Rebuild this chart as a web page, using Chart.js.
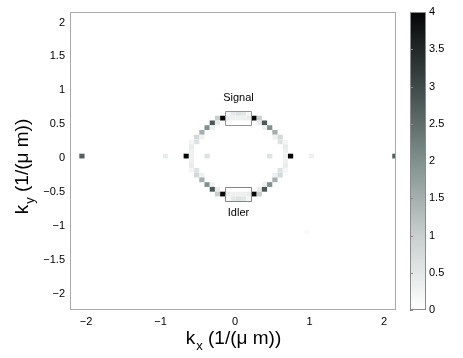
<!DOCTYPE html>
<html>
<head>
<meta charset="utf-8">
<script src="https://cdn.jsdelivr.net/npm/chart.js@4.4.0/dist/chart.umd.min.js"></script>
<style>
  body { margin: 0; background: #fff; }
  #wrap { width: 463px; height: 358px; }
</style>
</head>
<body>
<div id="wrap"><canvas id="kspace"></canvas></div>
<script>
// intensity cells, centre kx / ky in 1/um, cell width 0.07
var cellSize = 0.07;
var cellKx = [
  -0.095, -0.025, 0.045, 0.115, 0.185,
  -0.235, -0.165, -0.095, -0.025, 0.045, 0.115, 0.185, 0.255, 0.325,
  -0.305, -0.235, 0.325, 0.395,
  -0.375, -0.305, 0.395, 0.465,
  -0.445, 0.535,
  -0.515, -0.445, 0.535, 0.605,
  -0.585, -0.515, 0.605, 0.675,
  -0.585, 0.675,
  -0.585, 0.675,
  -2.055, -0.935, -0.655, -0.585, -0.375, 0.465, 0.675, 0.745, 1.025, 2.145,
  -0.585, 0.675,
  -0.585, 0.675,
  -0.585, -0.515, 0.605, 0.675,
  -0.515, -0.445, 0.535, 0.605,
  -0.445, 0.535,
  -0.375, -0.305, 0.395, 0.465,
  -0.305, -0.235, 0.325, 0.395,
  -0.235, -0.165, -0.095, -0.025, 0.045, 0.115, 0.185, 0.255, 0.325,
  -0.095, -0.025, 0.045, 0.115, 0.185,
  0.955
];
var cellKy = [
  0.66, 0.66, 0.66, 0.66, 0.66,
  0.59, 0.59, 0.59, 0.59, 0.59, 0.59, 0.59, 0.59, 0.59,
  0.52, 0.52, 0.52, 0.52,
  0.45, 0.45, 0.45, 0.45,
  0.38, 0.38,
  0.31, 0.31, 0.31, 0.31,
  0.24, 0.24, 0.24, 0.24,
  0.17, 0.17,
  0.10, 0.10,
  0.03, 0.03, 0.03, 0.03, 0.03, 0.03, 0.03, 0.03, 0.03, 0.03,
  -0.04, -0.04,
  -0.11, -0.11,
  -0.18, -0.18, -0.18, -0.18,
  -0.25, -0.25, -0.25, -0.25,
  -0.32, -0.32,
  -0.39, -0.39, -0.39, -0.39,
  -0.46, -0.46, -0.46, -0.46,
  -0.53, -0.53, -0.53, -0.53, -0.53, -0.53, -0.53, -0.53, -0.53,
  -0.60, -0.60, -0.60, -0.60, -0.60,
  -1.09
];
var cellVal = [
  0.2, 0.5, 0.6, 0.5, 0.2,
  1.0, 4.0, 0.4, 0.3, 0.3, 0.3, 0.4, 4.0, 1.0,
  2.8, 0.4, 0.4, 2.8,
  2.0, 0.3, 0.3, 2.0,
  1.5, 1.5,
  0.8, 0.3, 0.3, 0.8,
  0.2, 0.6, 0.6, 0.2,
  0.4, 0.4,
  0.3, 0.3,
  2.7, 0.4, 4.0, 0.3, 0.6, 0.6, 0.3, 4.0, 0.3, 2.7,
  0.3, 0.3,
  0.4, 0.4,
  0.2, 0.6, 0.6, 0.2,
  0.8, 0.3, 0.3, 0.8,
  1.5, 1.5,
  2.0, 0.3, 0.3, 2.0,
  2.8, 0.4, 0.4, 2.8,
  1.0, 4.0, 0.4, 0.3, 0.3, 0.3, 0.4, 4.0, 1.0,
  0.2, 0.5, 0.6, 0.5, 0.2,
  0.1
];

var xRange = [-2.215, 2.16];
var yRange = [-2.24, 2.155];
var cbRange = [0, 4];
var xTicks = [-2, -1, 0, 1, 2];
var yTicks = [-2, -1.5, -1, -0.5, 0, 0.5, 1, 1.5, 2];
var cbTicks = [0, 0.5, 1, 1.5, 2, 2.5, 3, 3.5, 4];

// colormap stops
var cmapVals = [0, 1, 2, 3, 4];
var cmapColors = [[255, 255, 255], [200, 207, 206], [128, 145, 141], [62, 74, 73], [5, 5, 6]];

// selection boxes
var boxNames = ['Signal', 'Idler'];
var boxKx = [[-0.13, 0.22], [-0.13, 0.22]];
var boxKy = [[0.487, 0.694], [-0.635, -0.42]];
var boxLabelKy = [0.885, -0.81];
var boxColors = ['rgb(236,110,110)', 'rgb(120,120,240)'];

var xTitle = ['k', 'x', ' (1/(\u03bc m))'];
var yTitle = ['k', 'y', ' (1/(\u03bc m))'];

function cmap(v) {
    var t = Math.max(cmapVals[0], Math.min(cmapVals[cmapVals.length - 1], v));
    for (var i = 0; i < cmapVals.length - 1; i++) {
        if (t <= cmapVals[i + 1]) {
            var f = (t - cmapVals[i]) / (cmapVals[i + 1] - cmapVals[i]);
            var a = cmapColors[i], b = cmapColors[i + 1];
            return 'rgb(' + Math.round(a[0] + (b[0] - a[0]) * f) + ',' +
                Math.round(a[1] + (b[1] - a[1]) * f) + ',' +
                Math.round(a[2] + (b[2] - a[2]) * f) + ')';
        }
    }
    return 'rgb(0,0,0)';
}

function minusFmt(v) {
    return String(v).replace('-', '\u2212');
}

var FONT = '"Liberation Sans", Arial, Helvetica, sans-serif';

var cellsPlugin = {
    id: 'cells',
    beforeDatasetsDraw: function (chart) {
        var ctx = chart.ctx, a = chart.chartArea, sx = chart.scales.x, sy = chart.scales.y;
        var pts = chart.data.datasets[0].data;
        ctx.save();
        ctx.beginPath();
        ctx.rect(a.left, a.top, a.right - a.left, a.bottom - a.top);
        ctx.clip();
        pts.forEach(function (p) {
            var x0 = sx.getPixelForValue(p.x - cellSize / 2);
            var x1 = sx.getPixelForValue(p.x + cellSize / 2);
            var y0 = sy.getPixelForValue(p.y + cellSize / 2);
            var y1 = sy.getPixelForValue(p.y - cellSize / 2);
            ctx.fillStyle = cmap(p.v);
            ctx.fillRect(x0, y0, x1 - x0, y1 - y0);
        });
        ctx.restore();
    },
    afterDraw: function (chart) {
        var ctx = chart.ctx, a = chart.chartArea, cb = chart.scales.cb;
        var sx = chart.scales.x, sy = chart.scales.y;
        ctx.save();
        // frame
        ctx.strokeStyle = '#a8a8a8';
        ctx.lineWidth = 1;
        ctx.strokeRect(a.left + 0.5, a.top + 0.5, a.right - a.left - 1, a.bottom - a.top - 1);
        // boxes and their labels
        ctx.font = '11px ' + FONT;
        ctx.textAlign = 'center';
        ctx.textBaseline = 'middle';
        boxNames.forEach(function (name, i) {
            var l = Math.round(sx.getPixelForValue(boxKx[i][0])) + 0.5;
            var r = Math.round(sx.getPixelForValue(boxKx[i][1])) + 0.5;
            var t = Math.round(sy.getPixelForValue(boxKy[i][1])) + 0.5;
            var b = Math.round(sy.getPixelForValue(boxKy[i][0])) + 0.5;
            ctx.strokeStyle = boxColors[i];
            ctx.beginPath();
            ctx.rect(l, t, r - l, b - t);
            ctx.stroke();
            ctx.fillStyle = '#000';
            ctx.fillText(name, (l + r) / 2, sy.getPixelForValue(boxLabelKy[i]));
        });
        // colour bar
        var bl = a.right + 14, bw = 16;
        var yTop = cb.getPixelForValue(cbRange[1]), yBot = cb.getPixelForValue(cbRange[0]);
        var g = ctx.createLinearGradient(0, yBot, 0, yTop);
        cmapVals.forEach(function (v) {
            g.addColorStop((v - cbRange[0]) / (cbRange[1] - cbRange[0]), cmap(v));
        });
        ctx.fillStyle = g;
        ctx.fillRect(bl, yTop, bw, yBot - yTop);
        ctx.strokeStyle = '#8a8a8a';
        ctx.strokeRect(bl + 0.5, yTop + 0.5, bw - 1, yBot - yTop - 1);
        cbTicks.forEach(function (v) {
            var y = Math.round(cb.getPixelForValue(v)) + 0.5;
            ctx.beginPath();
            ctx.moveTo(bl, y); ctx.lineTo(bl + 3, y);
            ctx.stroke();
        });
        // axis titles with subscripts
        ctx.fillStyle = '#000';
        ctx.textBaseline = 'alphabetic';
        ctx.textAlign = 'left';
        var big = '19px ' + FONT, small = '13px ' + FONT;
        function titleWidth(parts) {
            ctx.font = big; var w = ctx.measureText(parts[0]).width + ctx.measureText(parts[2]).width;
            ctx.font = small; return w + ctx.measureText(parts[1]).width;
        }
        function drawTitle(parts, x, y) {
            ctx.font = big; ctx.fillText(parts[0], x, y);
            var w0 = ctx.measureText(parts[0]).width;
            ctx.font = small; ctx.fillText(parts[1], x + w0 + 1, y + 6);
            var w1 = ctx.measureText(parts[1]).width;
            ctx.font = big; ctx.fillText(parts[2], x + w0 + w1 + 1, y);
        }
        var wx = titleWidth(xTitle);
        drawTitle(xTitle, (a.left + a.right) / 2 - wx / 2, 344);
        var wy = titleWidth(yTitle);
        ctx.translate(28, (a.top + a.bottom) / 2 + 6);
        ctx.rotate(-Math.PI / 2);
        drawTitle(yTitle, -wy / 2, 0);
        ctx.restore();
    }
};

function fixedTicks(list) {
    return function (s) { s.ticks = list.map(function (v) { return { value: v }; }); };
}

var ctx = document.getElementById('kspace').getContext('2d');
var kChart = new Chart(ctx, {
    type: 'scatter',
    data: {
        datasets: [{
            data: cellKx.map(function (kx, i) { return { x: kx, y: cellKy[i], v: cellVal[i] }; }),
            pointRadius: 0,
            pointHoverRadius: 0
        }]
    },
    options: {
        responsive: true,
        maintainAspectRatio: false,
        animation: false,
        events: [],
        layout: { padding: { top: 12, left: 0, right: 0, bottom: 0 } },
        plugins: { legend: { display: false }, tooltip: { enabled: false } },
        scales: {
            x: {
                type: 'linear', position: 'bottom',
                min: xRange[0], max: xRange[1],
                grid: { display: false, drawTicks: false },
                border: { display: false },
                afterBuildTicks: fixedTicks(xTicks),
                afterFit: function (s) { s.height = 48; s.paddingLeft = 0; s.paddingRight = 0; },
                ticks: { padding: 5, color: '#000', font: { family: FONT, size: 11 }, callback: minusFmt, maxRotation: 0 }
            },
            y: {
                type: 'linear', position: 'left',
                min: yRange[0], max: yRange[1],
                grid: { display: false, drawTicks: false },
                border: { display: false },
                afterBuildTicks: fixedTicks(yTicks),
                afterFit: function (s) { s.width = 70; s.paddingTop = 0; s.paddingBottom = 0; },
                ticks: { padding: 5, color: '#000', font: { family: FONT, size: 11 }, callback: minusFmt }
            },
            cb: {
                type: 'linear', position: 'right',
                min: cbRange[0], max: cbRange[1],
                grid: { display: false, drawTicks: false },
                border: { display: false },
                afterBuildTicks: fixedTicks(cbTicks),
                afterFit: function (s) { s.width = 67; s.paddingTop = 0; s.paddingBottom = 0; },
                ticks: { padding: 33, color: '#000', font: { family: FONT, size: 11 }, callback: function (v) { return String(v); } }
            }
        }
    },
    plugins: [cellsPlugin]
});
</script>
</body>
</html>
